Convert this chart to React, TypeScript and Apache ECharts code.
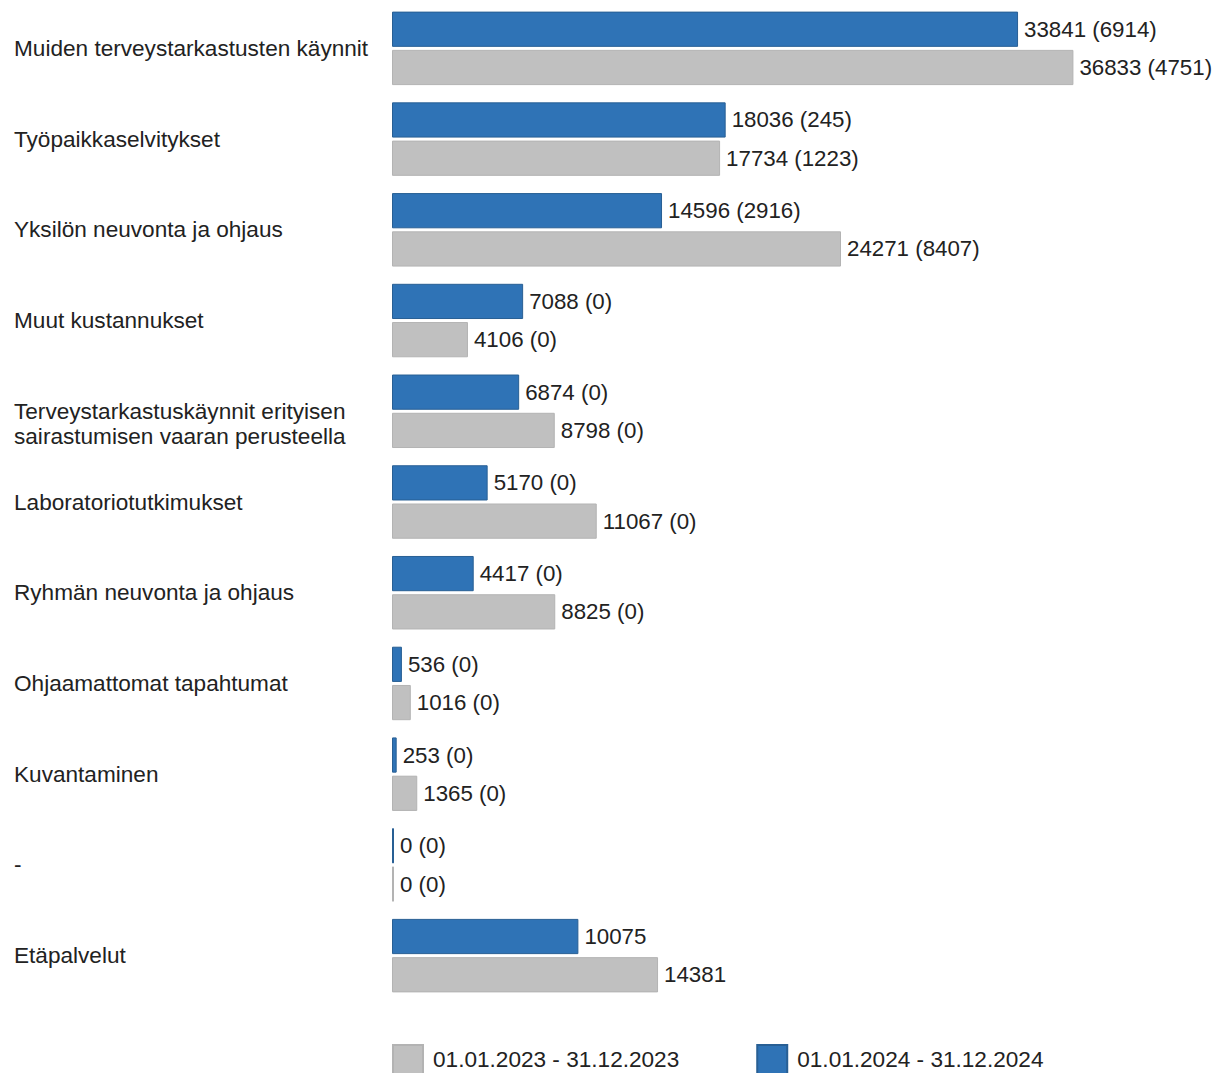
import React, { useEffect, useRef } from "react";
import * as echarts from "echarts";

const categories: string[] = [
  "Muiden terveystarkastusten käynnit",
  "Työpaikkaselvitykset",
  "Yksilön neuvonta ja ohjaus",
  "Muut kustannukset",
  "Terveystarkastuskäynnit erityisen\nsairastumisen vaaran perusteella",
  "Laboratoriotutkimukset",
  "Ryhmän neuvonta ja ohjaus",
  "Ohjaamattomat tapahtumat",
  "Kuvantaminen",
  "-",
  "Etäpalvelut",
];

const name2024 = "01.01.2024 - 31.12.2024";
const name2023 = "01.01.2023 - 31.12.2023";

const values2024: number[] = [33841, 18036, 14596, 7088, 6874, 5170, 4417, 536, 253, 0, 10075];
const sub2024: (number | null)[] = [6914, 245, 2916, 0, 0, 0, 0, 0, 0, 0, null];
const values2023: number[] = [36833, 17734, 24271, 4106, 8798, 11067, 8825, 1016, 1365, 0, 14381];
const sub2023: (number | null)[] = [4751, 1223, 8407, 0, 0, 0, 0, 0, 0, 0, null];

const FONT = "'Liberation Sans', Arial, sans-serif";

function fmt(vals: number[], subs: (number | null)[]) {
  return (p: any) => {
    const i = p.dataIndex;
    const s = subs[i];
    return s === null ? `${vals[i]}` : `${vals[i]} (${s})`;
  };
}

export default function App() {
  const ref = useRef<HTMLDivElement>(null);
  useEffect(() => {
    if (!ref.current) return;
    const chart = echarts.init(ref.current, null, { renderer: "svg" });
    chart.setOption({
      animation: false,
      backgroundColor: "#ffffff",
      grid: { left: 392, width: 740, top: 3, bottom: 72, containLabel: false },
      legend: {
        data: [name2023, name2024],
        left: 392,
        top: 1044,
        padding: 0,
        itemWidth: 30,
        itemHeight: 29,
        itemGap: 77,
        icon: "rect",
        textStyle: { fontFamily: FONT, fontSize: 22.6, color: "#222", padding: [0, 0, 0, 5] },
      },
      xAxis: {
        type: "value",
        min: 0,
        max: 40000,
        show: false,
      },
      yAxis: {
        type: "category",
        data: categories,
        inverse: true,
        axisLine: { show: false },
        axisTick: { show: false },
        splitLine: { show: false },
        axisLabel: {
          align: "left",
          margin: 378,
          fontFamily: FONT,
          fontSize: 22.6,
          lineHeight: 25,
          color: "#222",
          formatter: (v: string) => (v.indexOf("\n") >= 0 ? "\n" + v : v),
        },
      },
      series: [
        {
          name: name2024,
          type: "bar",
          data: values2024,
          barGap: "8.6%",
          barCategoryGap: "19%",
          barMinHeight: 2,
          itemStyle: { color: "#2f73b6", borderColor: "#285f94", borderWidth: 1 },
          label: {
            show: true,
            position: "right",
            distance: 6,
            fontFamily: FONT,
            fontSize: 22.3,
            color: "#222",
            formatter: fmt(values2024, sub2024),
          },
        },
        {
          name: name2023,
          type: "bar",
          data: values2023,
          barGap: "8.6%",
          barCategoryGap: "19%",
          barMinHeight: 2,
          itemStyle: { color: "#c0c0c0", borderColor: "#b3b3b3", borderWidth: 1 },
          label: {
            show: true,
            position: "right",
            distance: 6,
            fontFamily: FONT,
            fontSize: 22.3,
            color: "#222",
            formatter: fmt(values2023, sub2023),
          },
        },
      ],
    });
    return () => chart.dispose();
  }, []);
  return (
    <div
      ref={ref}
      style={{ position: "absolute", left: 0, top: 0, width: 1218, height: 1073, background: "#fff" }}
    />
  );
}
